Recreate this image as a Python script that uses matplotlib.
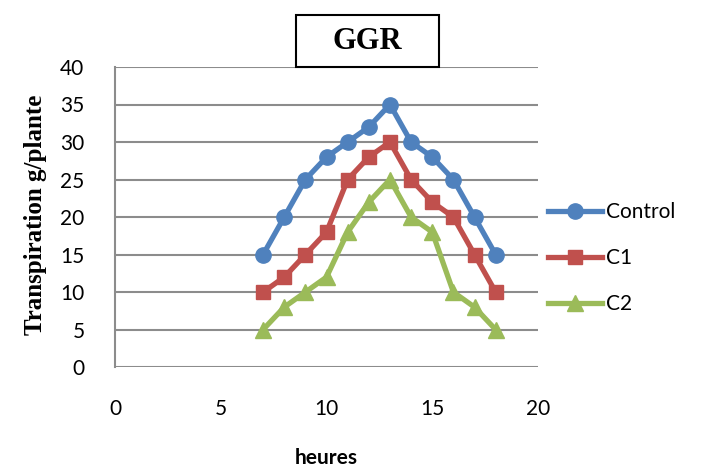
import matplotlib.pyplot as plt
from matplotlib.patches import Rectangle

heures = [7, 8, 9, 10, 11, 12, 13, 14, 15, 16, 17, 18]
control = [15, 20, 25, 28, 30, 32, 35, 30, 28, 25, 20, 15]
c1 = [10, 12, 15, 18, 25, 28, 30, 25, 22, 20, 15, 10]
c2 = [5, 8, 10, 12, 18, 22, 25, 20, 18, 10, 8, 5]

series = [
    ("Control", control, "#4F81BD", "o", 11),
    ("C1", c1, "#C0504D", "s", 10.5),
    ("C2", c2, "#9BBB59", "^", 11.5),
]

fig = plt.figure(figsize=(7.06, 4.75), dpi=100)
ax = fig.add_axes([0.163, 0.227, 0.599, 0.632])

for name, vals, col, mk, ms in series:
    ax.plot(heures, vals, color=col, lw=3.8, marker=mk, ms=ms, label=name,
            solid_joinstyle="round")

ax.set_xlim(0, 20)
ax.set_ylim(0, 40)
ax.set_xticks(range(0, 21, 5))
ax.set_yticks(range(0, 41, 5))
ax.grid(axis="y", color="#8c8c8c", lw=1.5)
ax.set_axisbelow(True)
for s in ["top", "right", "bottom"]:
    ax.spines[s].set_visible(False)
ax.spines["left"].set_color("#8c8c8c")
ax.spines["left"].set_linewidth(1.5)
ax.tick_params(length=0, labelsize=15)
ax.tick_params(axis="x", pad=23)
ax.tick_params(axis="y", pad=22)
for lab in ax.get_xticklabels() + ax.get_yticklabels():
    lab.set_family("Lato")

ax.set_xlabel("heures", family="Lato", fontweight="bold", fontsize=15, va="center")
ax.xaxis.set_label_coords(0.5, -0.303)
ax.set_ylabel("Transpiration g/plante", family="Liberation Serif",
              fontweight="bold", fontsize=18, va="center")
ax.yaxis.set_label_coords(-0.189, 0.507)

# title box
fig.add_artist(Rectangle((0.419, 0.859), 0.203, 0.109, transform=fig.transFigure,
                         fc="white", ec="black", lw=1.5, zorder=5))
fig.text(0.520, 0.912, "GGR", family="Liberation Serif", fontweight="bold",
         fontsize=22, ha="center", va="center", zorder=6)

leg = ax.legend(loc="center left", bbox_to_anchor=(0.99, 0.363), frameon=False,
                prop={"family": "Lato", "size": 15}, handlelength=2.6,
                handletextpad=0.15, labelspacing=1.25, borderaxespad=0.3)

fig.savefig("out.png", dpi=100)
